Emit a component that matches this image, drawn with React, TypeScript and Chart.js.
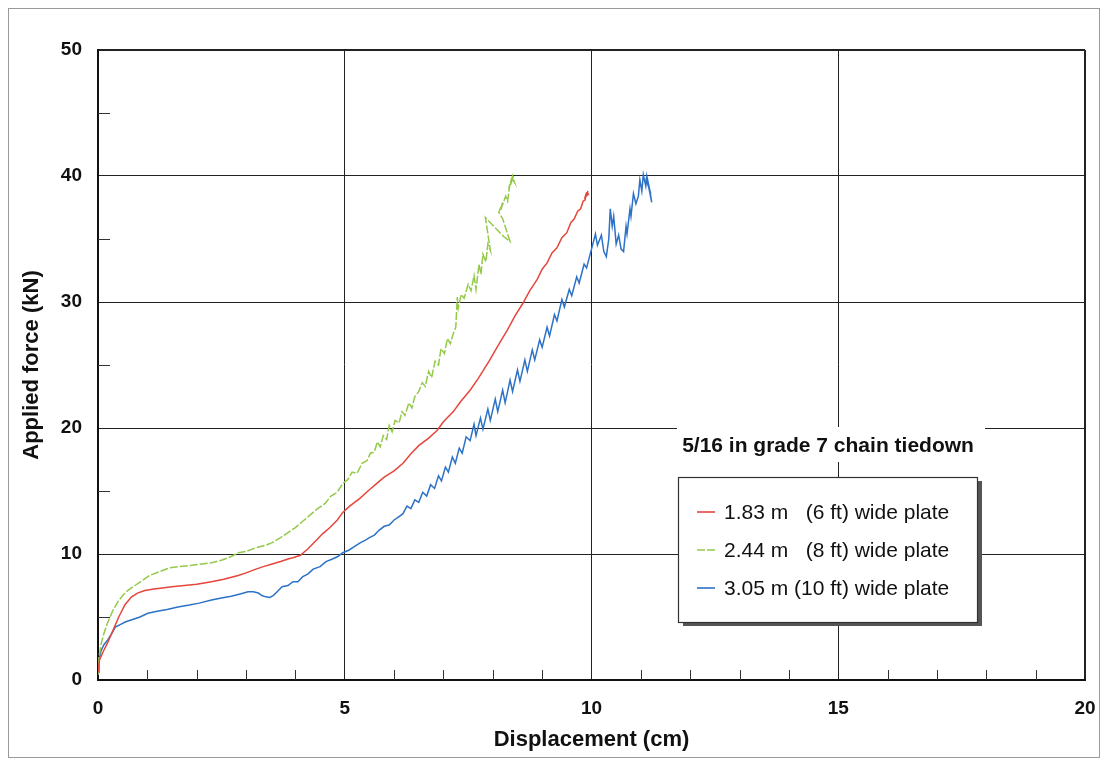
import React, { useEffect, useRef } from "react";
import { Chart, registerables } from "chart.js";

Chart.register(...registerables);

const FONT = '"Liberation Sans", Arial, Helvetica, sans-serif';

const X_MIN = 0;
const X_MAX = 20;
const X_STEP = 5;
const Y_MIN = 0;
const Y_MAX = 50;
const Y_STEP = 10;
const X_MINOR_TICKS = [1, 2, 3, 4, 6, 7, 8, 9, 11, 12, 13, 14, 16, 17, 18, 19];
const Y_MINOR_TICKS = [5, 15, 25, 35, 45];

const X_TITLE = "Displacement (cm)";
const Y_TITLE = "Applied force (kN)";
const LEGEND_TITLE = "5/16 in grade 7 chain tiedown";
const SERIES_LABELS = [
  "1.83 m   (6 ft) wide plate",
  "2.44 m   (8 ft) wide plate",
  "3.05 m (10 ft) wide plate",
];

// 1.83 m (6 ft) plate
const redX = [0, 0.03, 0.1, 0.2, 0.3, 0.42, 0.55, 0.68, 0.8, 0.95, 1.1, 1.3, 1.5, 1.75, 2.0, 2.3, 2.55, 2.84, 3.0, 3.2, 3.35, 3.53, 3.7, 3.85, 3.95, 4.1, 4.25, 4.4, 4.55, 4.7, 4.85, 4.96, 5.1, 5.3, 5.5, 5.65, 5.8, 6.0, 6.18, 6.35, 6.5, 6.7, 6.87, 7.0, 7.2, 7.35, 7.54, 7.7, 7.94, 8.1, 8.3, 8.45, 8.61, 8.75, 8.9, 9.0, 9.1, 9.2, 9.3, 9.4, 9.5, 9.58, 9.65, 9.72, 9.78, 9.83, 9.87, 9.9, 9.86, 9.93, 9.89, 9.95];
const redY = [0.6, 1.6, 2.2, 3.0, 3.9, 5.0, 6.0, 6.6, 6.9, 7.1, 7.2, 7.3, 7.4, 7.5, 7.6, 7.8, 8.0, 8.3, 8.5, 8.8, 9.0, 9.2, 9.4, 9.6, 9.7, 9.9, 10.4, 11.0, 11.6, 12.1, 12.7, 13.3, 13.8, 14.4, 15.1, 15.6, 16.1, 16.6, 17.2, 18.0, 18.6, 19.2, 19.8, 20.5, 21.3, 22.1, 23.0, 23.9, 25.4, 26.5, 27.8, 28.9, 29.9, 30.9, 31.8, 32.6, 33.1, 33.9, 34.3, 35.1, 35.5, 36.3, 36.6, 37.2, 37.4, 38.0, 38.1, 38.7, 38.2, 38.8, 38.4, 38.6];

// 2.44 m (8 ft) plate
const greenX = [0, 0.02, 0.06, 0.12, 0.2, 0.3, 0.4, 0.5, 0.6, 0.75, 0.9, 1.05, 1.25, 1.45, 1.65, 1.9, 2.1, 2.3, 2.5, 2.7, 2.84, 3.0, 3.2, 3.4, 3.53, 3.7, 3.85, 4.0, 4.15, 4.3, 4.45, 4.6, 4.72, 4.85, 4.96, 5.06, 5.15, 5.25, 5.35, 5.45, 5.52, 5.6, 5.66, 5.72, 5.78, 5.85, 5.9, 5.96, 6.02, 6.1, 6.16, 6.22, 6.3, 6.36, 6.42, 6.5, 6.57, 6.63, 6.7, 6.76, 6.83, 6.9, 6.95, 7.02, 7.08, 7.14, 7.2, 7.25, 7.28, 7.3, 7.36, 7.42, 7.5, 7.56, 7.62, 7.66, 7.72, 7.76, 7.8, 7.86, 7.9, 7.95, 7.85, 8.12, 8.22, 8.35, 8.2, 8.12, 8.2, 8.16, 8.26, 8.3, 8.34, 8.38, 8.32, 8.42, 8.36, 8.4, 8.44, 8.38];
const greenY = [0.4, 1.8, 2.8, 3.7, 4.6, 5.5, 6.2, 6.7, 7.1, 7.5, 7.9, 8.3, 8.6, 8.9, 9.0, 9.1, 9.2, 9.3, 9.5, 9.8, 10.1, 10.2, 10.5, 10.7, 10.9, 11.3, 11.7, 12.1, 12.6, 13.1, 13.6, 14.0, 14.6, 14.9, 15.6, 15.9, 16.5, 16.4, 17.2, 17.4, 18.0, 18.1, 18.9, 18.5, 19.4, 19.1, 20.2, 19.7, 20.6, 20.4, 21.3, 21.0, 22.0, 21.6, 22.5, 22.9, 23.6, 23.3, 24.5, 24.0, 25.3, 25.0, 26.3, 25.9, 27.1, 26.7, 27.5, 28.0, 30.4, 29.5, 30.6, 30.3, 31.4, 30.9, 32.1, 31.0, 33.0, 32.2, 33.8, 33.2, 34.6, 34.1, 36.7, 35.6, 35.2, 34.8, 36.6, 37.1, 37.9, 37.3, 38.4, 38.0, 39.2, 39.8, 39.0, 40.0, 39.3, 40.0, 39.5, 39.9];

// 3.05 m (10 ft) plate
const blueX = [0, 0.02, 0.06, 0.12, 0.2, 0.28, 0.35, 0.45, 0.55, 0.7, 0.85, 1.01, 1.2, 1.4, 1.62, 1.85, 2.05, 2.3, 2.5, 2.7, 2.9, 3.04, 3.15, 3.25, 3.32, 3.4, 3.48, 3.55, 3.63, 3.73, 3.85, 3.95, 4.05, 4.15, 4.25, 4.36, 4.5, 4.62, 4.75, 4.86, 4.96, 5.08, 5.2, 5.32, 5.42, 5.5, 5.6, 5.7, 5.8, 5.9, 6.0, 6.08, 6.18, 6.26, 6.34, 6.42, 6.5, 6.58, 6.66, 6.74, 6.82, 6.9, 6.96, 7.04, 7.1, 7.18, 7.24, 7.32, 7.38, 7.46, 7.54, 7.62, 7.66, 7.75, 7.8, 7.9, 7.95, 8.05, 8.1, 8.2, 8.25, 8.35, 8.4, 8.5, 8.55, 8.65, 8.7, 8.8, 8.85, 8.95, 9.0, 9.1, 9.15, 9.25, 9.3, 9.4, 9.45, 9.55, 9.6, 9.7, 9.75, 9.85, 9.9, 10.0, 10.08, 10.12, 10.2, 10.25, 10.3, 10.35, 10.38, 10.42, 10.45, 10.5, 10.55, 10.6, 10.65, 10.7, 10.72, 10.78, 10.8, 10.85, 10.9, 10.95, 10.98, 11.02, 11.05, 11.1, 11.12, 11.18, 11.22, 11.15, 11.2, 11.1];
const blueY = [0.6, 1.6, 2.3, 2.8, 3.2, 3.7, 4.2, 4.4, 4.6, 4.8, 5.0, 5.3, 5.45, 5.6, 5.8, 5.95, 6.1, 6.35, 6.5, 6.65, 6.85, 7.0, 7.0, 6.9, 6.7, 6.6, 6.55, 6.7, 7.0, 7.4, 7.5, 7.8, 7.8, 8.2, 8.4, 8.8, 9.0, 9.4, 9.6, 9.8, 10.1, 10.3, 10.6, 10.9, 11.1, 11.3, 11.5, 11.9, 12.2, 12.3, 12.7, 12.9, 13.2, 13.8, 13.6, 14.3, 14.1, 14.9, 14.6, 15.5, 15.2, 16.2, 15.8, 16.9, 16.5, 17.7, 17.2, 18.4, 18.0, 19.3, 19.0, 20.3, 19.4, 20.8, 19.9, 21.5, 20.6, 22.3, 21.3, 23.0, 22.0, 23.8, 22.9, 24.6, 23.7, 25.4, 24.5, 26.2, 25.4, 27.0, 26.4, 28.0, 27.3, 29.0, 28.5, 30.2, 29.6, 31.0, 30.5, 32.0, 31.5, 33.0, 32.7, 34.2, 35.4, 34.5, 35.3, 34.0, 33.6, 35.0, 37.4, 36.0, 36.8, 34.6, 35.3, 34.2, 34.0, 36.0, 35.4, 37.4, 36.8, 38.6, 37.8, 38.4, 39.7, 38.8, 40.1, 39.2, 40.0, 38.9, 37.9, 39.3, 38.6, 39.8];

const toPoints = (xs: number[], ys: number[]) => xs.map((x, i) => ({ x, y: ys[i] }));

const minorTicksPlugin = {
  id: "minorTicks",
  afterDatasetsDraw(chart: any) {
    const { ctx, chartArea: a, scales } = chart;
    ctx.save();
    ctx.strokeStyle = "#333";
    ctx.lineWidth = 1;
    ctx.beginPath();
    X_MINOR_TICKS.forEach((v) => {
      const px = Math.round(scales.x.getPixelForValue(v)) + 0.5;
      ctx.moveTo(px, a.bottom);
      ctx.lineTo(px, a.bottom - 10);
    });
    Y_MINOR_TICKS.forEach((v) => {
      const py = Math.round(scales.y.getPixelForValue(v)) + 0.5;
      ctx.moveTo(a.left, py);
      ctx.lineTo(a.left + 12, py);
    });
    ctx.stroke();
    ctx.restore();
  },
};

const boxLegendPlugin = {
  id: "boxLegend",
  afterDraw(chart: any) {
    const { ctx, chartArea: a } = chart;
    ctx.save();
    // title with white backing
    ctx.fillStyle = "#fff";
    ctx.fillRect(a.left + 579, a.top + 377, 308, 35);
    ctx.font = `bold 21px ${FONT}`;
    ctx.fillStyle = "#111";
    ctx.textAlign = "center";
    ctx.textBaseline = "middle";
    ctx.fillText(LEGEND_TITLE, a.left + 730, a.top + 396);
    // box with shadow
    const bx = a.left + 580;
    const by = a.top + 427;
    const bw = 299;
    const bh = 145;
    ctx.fillStyle = "#555";
    ctx.fillRect(bx + 5, by + 4, bw, bh);
    ctx.fillStyle = "#fff";
    ctx.fillRect(bx, by, bw, bh);
    ctx.strokeStyle = "#333";
    ctx.lineWidth = 1.2;
    ctx.strokeRect(bx + 0.5, by + 0.5, bw, bh);
    chart.data.datasets.forEach((ds: any, i: number) => {
      const y = by + 35 + i * 38;
      ctx.strokeStyle = ds.borderColor;
      ctx.lineWidth = 1.6;
      ctx.setLineDash(ds.borderDash || []);
      ctx.beginPath();
      ctx.moveTo(bx + 19, y);
      ctx.lineTo(bx + 37, y);
      ctx.stroke();
      ctx.setLineDash([]);
      ctx.font = `21px ${FONT}`;
      ctx.textAlign = "left";
      ctx.textBaseline = "middle";
      ctx.fillStyle = "#111";
      ctx.fillText(ds.label, bx + 46, y + 1);
    });
    ctx.restore();
  },
};

export default function App() {
  const canvasRef = useRef<HTMLCanvasElement | null>(null);

  useEffect(() => {
    if (!canvasRef.current) return;
    const tickFont = { family: FONT, size: 19, weight: "bold" as const };
    const titleFont = { family: FONT, size: 22, weight: "bold" as const };
    const chart = new Chart(canvasRef.current, {
      type: "scatter",
      data: {
        datasets: [
          {
            label: SERIES_LABELS[0],
            data: toPoints(redX, redY),
            borderColor: "#e5463c",
            backgroundColor: "#e5463c",
            borderWidth: 1.5,
            showLine: true,
            pointRadius: 0,
          },
          {
            label: SERIES_LABELS[1],
            data: toPoints(greenX, greenY),
            borderColor: "#94c94a",
            backgroundColor: "#94c94a",
            borderWidth: 1.5,
            borderDash: [8, 2],
            showLine: true,
            pointRadius: 0,
          },
          {
            label: SERIES_LABELS[2],
            data: toPoints(blueX, blueY),
            borderColor: "#2c72c6",
            backgroundColor: "#2c72c6",
            borderWidth: 1.5,
            showLine: true,
            pointRadius: 0,
          },
        ],
      },
      options: {
        animation: false,
        responsive: true,
        maintainAspectRatio: false,
        layout: { padding: { left: 0, top: 41, right: 14, bottom: 0 } },
        plugins: {
          legend: { display: false },
          tooltip: { enabled: false },
        },
        scales: {
          x: {
            type: "linear",
            min: X_MIN,
            max: X_MAX,
            ticks: { stepSize: X_STEP, padding: 17, font: tickFont, color: "#111", maxRotation: 0 },
            grid: {
              color: "#222",
              lineWidth: (c: any) => (c.tick && c.tick.value === X_MAX ? 2 : 1),
              drawTicks: false,
            },
            border: { color: "#111", width: 2 },
            title: { display: true, text: X_TITLE, font: titleFont, color: "#111", padding: { top: 0, bottom: 4 } },
            afterFit: (s: any) => {
              s.height = 77;
              s.paddingLeft = 0;
              s.paddingRight = 0;
            },
          },
          y: {
            type: "linear",
            min: Y_MIN,
            max: Y_MAX,
            ticks: { stepSize: Y_STEP, padding: 16, font: tickFont, color: "#111" },
            grid: {
              color: "#222",
              lineWidth: (c: any) => (c.tick && c.tick.value === Y_MAX ? 2 : 1),
              drawTicks: false,
            },
            border: { color: "#111", width: 2 },
            title: { display: true, text: Y_TITLE, font: titleFont, color: "#111", padding: { top: 10, bottom: 0 } },
            afterFit: (s: any) => {
              s.width = 89;
              s.paddingTop = 0;
              s.paddingBottom = 0;
            },
          },
        },
      },
      plugins: [minorTicksPlugin, boxLegendPlugin],
    });
    return () => chart.destroy();
  }, []);

  return (
    <div
      style={{
        position: "relative",
        width: 1092,
        height: 750,
        border: "1px solid #9a9a9a",
        boxSizing: "border-box",
        background: "#fff",
      }}
    >
      <canvas ref={canvasRef} />
    </div>
  );
}
